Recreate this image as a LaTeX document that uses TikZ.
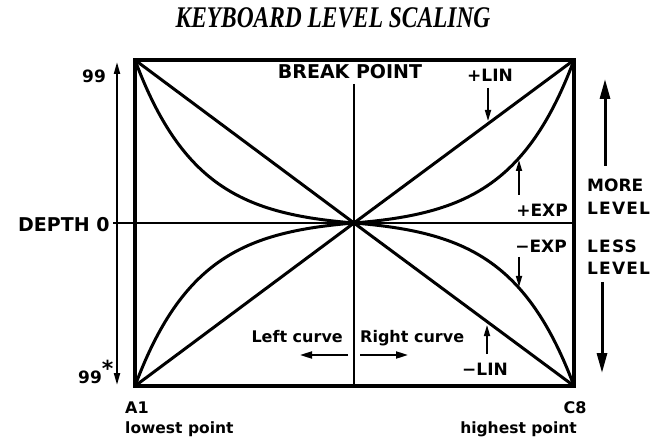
\documentclass[tikz,border=0pt]{standalone}
\usepackage{fontspec}
\setmainfont{Liberation Serif}
\newfontfamily\lab{DejaVu Sans}
\newfontfamily\labwide{DejaVu Sans}[LetterSpace=7]
\usetikzlibrary{arrows.meta}
\begin{document}
\begin{tikzpicture}[x=1pt,y=-1pt,
  lbl/.style={font=\lab\bfseries\fontsize{17}{17}\selectfont, inner sep=0pt},
  wide/.style={font=\labwide\bfseries\fontsize{17}{17}\selectfont, inner sep=0pt},
  big/.style={font=\lab\bfseries\fontsize{19}{19}\selectfont, inner sep=0pt},
  frame/.style={line width=4.5pt, line join=miter},
  graph/.style={line width=3pt, line cap=round, line join=round},
  thin/.style={line width=1.2pt},
  sidearrow/.style={line width=2pt, -{Triangle[length=12pt,width=6pt]}},
  levelarrow/.style={line width=3pt, -{Triangle[length=20pt,width=10pt]}},
  tagarrow/.style={line width=1.6pt, -{Triangle[length=11pt,width=6pt]}},
  curvearrow/.style={line width=2pt, -{Triangle[length=12pt,width=7pt]}}]
\fill[white] (0,0) rectangle (671,443);
\useasboundingbox (0,0) rectangle (671,443);

% title
\node[inner sep=0pt, anchor=base, font=\bfseries\itshape\fontsize{30}{30}\selectfont] (title) at (333,28) {\scalebox{0.78}[1]{KEYBOARD LEVEL SCALING}};

% main coordinates
\coordinate (TL) at (135,60);
\coordinate (TR) at (574,60);
\coordinate (BL) at (135,386);
\coordinate (BR) at (574,386);
\coordinate (C) at (354,223);
\coordinate (hstart) at (113,223);
\coordinate (vtop) at (354,84);

% axes
\draw[thin] (hstart) -- (C -| TR);
\draw[thin] (vtop) -- (C |- BL);

% straight lines
\draw[graph] (TL) -- (C) -- (TR);
\draw[graph] (BL) -- (C) -- (BR);

% exponential curves
\draw[graph] plot[domain=0:1, samples=90, smooth] ({354-219*\x},{223-163*(exp(3.5*\x)-1)/(exp(3.5)-1)});
\draw[graph] plot[domain=0:1, samples=90, smooth] ({354-219*\x},{223+163*(exp(3.5*\x)-1)/(exp(3.5)-1)});
\draw[graph] plot[domain=0:1, samples=90, smooth] ({354+220*\x},{223-163*(exp(3.5*\x)-1)/(exp(3.5)-1)});
\draw[graph] plot[domain=0:1, samples=90, smooth] ({354+220*\x},{223+163*(exp(3.5*\x)-1)/(exp(3.5)-1)});

% frame
\draw[frame] (TL) rectangle (BR);

% left scale
\coordinate (dtop) at (117,62);
\coordinate (dbot) at (117,385);
\draw[sidearrow] (hstart -| dtop) -- (dtop);
\draw[sidearrow] (hstart -| dtop) -- (dbot);
\node[lbl, anchor=base west] (n99top) at (82,83) {99};
\node[big, anchor=base west] (depth) at (18,232) {DEPTH 0};
\node[lbl, anchor=base west] (n99bot) at (78,383) {99\raisebox{7pt}{\fontsize{22}{22}\selectfont *}};

% bottom labels
\node[lbl, anchor=base west, font=\lab\bfseries\fontsize{16}{16}\selectfont] (a1) at (125,413) {A1};
\node[lbl, anchor=base west, font=\lab\bfseries\fontsize{15.5}{16}\selectfont] (lowest) at (125,433) {lowest point};
\node[lbl, anchor=base, font=\lab\bfseries\fontsize{16}{16}\selectfont] (c8) at (575,413) {C8};
\node[lbl, anchor=base east, font=\lab\bfseries\fontsize{15.5}{16}\selectfont] (highest) at (577,433) {highest point};

% break point
\node[big, anchor=base] (bp) at (350,79) {BREAK POINT};

% curve tags
\node[lbl, anchor=base west] (plin) at (467,82) {+LIN};
\coordinate (plinS) at (488,88);
\coordinate (plinT) at (488,121);
\draw[tagarrow] (plinS) -- (plinT);

\node[lbl, anchor=base east] (pexp) at (568,217) {+EXP};
\coordinate (pexpS) at (519,195);
\coordinate (pexpT) at (519,160);
\draw[tagarrow] (pexpS) -- (pexpT);

\node[lbl, anchor=base east] (mexp) at (567,253) {−EXP};
\coordinate (mexpS) at (519,257);
\coordinate (mexpT) at (519,287);
\draw[tagarrow] (mexpS) -- (mexpT);

\node[lbl, anchor=base west] (mlin) at (462,375) {−LIN};
\coordinate (mlinS) at (487,354);
\coordinate (mlinT) at (487,325);
\draw[tagarrow] (mlinS) -- (mlinT);

% level labels
\node[lbl, anchor=base west] (more) at (587,192) {MORE};
\node[wide, anchor=base west] (lev1) at (587,215) {LEVEL};
\node[wide, anchor=base west] (less) at (587,253) {LESS};
\node[wide, anchor=base west] (lev2) at (587,275) {LEVEL};
\coordinate (moreS) at (605,166);
\coordinate (moreT) at (605,79);
\draw[levelarrow] (moreS) -- (moreT);
\coordinate (lessS) at (602,282);
\coordinate (lessT) at (602,373);
\draw[levelarrow] (lessS) -- (lessT);

% left / right curve
\node[lbl, anchor=base east, font=\lab\bfseries\fontsize{16}{16}\selectfont] (lc) at (343,342) {Left curve};
\node[lbl, anchor=base west, font=\lab\bfseries\fontsize{16}{16}\selectfont] (rc) at (360,342) {Right curve};
\coordinate (lcS) at (348,355);
\coordinate (lcT) at (300,355);
\coordinate (rcS) at (360,355);
\coordinate (rcT) at (408,355);
\draw[curvearrow] (lcS) -- (lcT);
\draw[curvearrow] (rcS) -- (rcT);
\end{tikzpicture}
\end{document}
